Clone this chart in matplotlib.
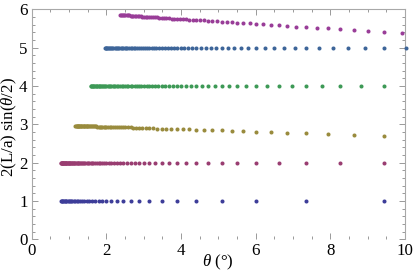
import matplotlib
matplotlib.use("Agg")
import matplotlib.pyplot as plt
from matplotlib.ticker import MultipleLocator

plt.rcParams['font.family'] = ['Liberation Serif', 'DejaVu Serif']
plt.rcParams['mathtext.fontset'] = 'custom'
plt.rcParams['mathtext.rm'] = 'Liberation Serif'
plt.rcParams['mathtext.it'] = 'Liberation Serif:italic'

# order 1
x1 = [9.45, 7.35, 6.01, 5.09, 4.41, 3.89, 3.48, 3.15, 2.88, 2.65, 2.45, 2.28, 2.13, 2.00,
      1.89, 1.79, 1.70, 1.61, 1.54, 1.47, 1.41, 1.35, 1.30, 1.25, 1.20, 1.16, 1.12, 1.08,
      1.05, 1.02, 0.99, 0.96, 0.93, 0.91, 0.88, 0.86, 0.84, 0.82, 0.80, 0.78]
y1 = [1.0] * len(x1)

# order 2
x2 = [9.45, 8.27, 7.35, 6.62, 6.01, 5.51, 5.09, 4.73, 4.41, 4.14, 3.89, 3.68, 3.48, 3.31,
      3.15, 3.01, 2.88, 2.76, 2.65, 2.54, 2.45, 2.36, 2.28, 2.21, 2.13, 2.07, 2.00, 1.95,
      1.89, 1.84, 1.79, 1.74, 1.70, 1.65, 1.61, 1.58, 1.54, 1.50, 1.47, 1.44, 1.41, 1.38,
      1.35, 1.32, 1.30, 1.27, 1.25, 1.23, 1.20, 1.18, 1.16, 1.14, 1.12, 1.10, 1.08, 1.07,
      1.05, 1.03, 1.02, 1.00, 0.99, 0.97, 0.96, 0.95, 0.93, 0.92, 0.91, 0.89, 0.88, 0.87,
      0.86, 0.85, 0.84, 0.83, 0.82, 0.81, 0.80, 0.79, 0.78]
y2 = [2.0] * len(x2)

# order 3 (slowly decreasing)
x3 = [9.45, 8.63, 7.94, 7.35, 6.84, 6.40, 6.01, 5.67, 5.36, 5.09, 4.84, 4.62, 4.41, 4.22,
      4.05, 3.89, 3.74, 3.61, 3.48, 3.36, 3.25, 3.15, 3.05, 2.96, 2.88, 2.80, 2.72, 2.65,
      2.58, 2.51, 2.45, 2.39, 2.34, 2.28, 2.23, 2.18, 2.13, 2.09, 2.05, 2.00, 1.97, 1.93,
      1.89, 1.86, 1.82, 1.79, 1.76, 1.73, 1.70, 1.67, 1.64, 1.61, 1.59, 1.56, 1.54, 1.52,
      1.49, 1.47, 1.45, 1.43, 1.41, 1.39, 1.37, 1.35, 1.33, 1.31, 1.30, 1.28, 1.26, 1.25,
      1.23, 1.22, 1.20, 1.19, 1.17]
y3 = [2.70, 2.73, 2.75, 2.77, 2.78, 2.80, 2.81, 2.82, 2.83, 2.84, 2.85, 2.85, 2.86, 2.87,
      2.87, 2.88, 2.88, 2.89, 2.89, 2.89, 2.90, 2.90, 2.90, 2.91, 2.91, 2.91, 2.91, 2.92,
      2.92, 2.92, 2.92, 2.92, 2.93, 2.93, 2.93, 2.93, 2.93, 2.93, 2.94, 2.94, 2.94, 2.94,
      2.94, 2.94, 2.94, 2.94, 2.94, 2.95, 2.95, 2.95, 2.95, 2.95, 2.95, 2.95, 2.95, 2.95,
      2.95, 2.95, 2.95, 2.95, 2.96, 2.96, 2.96, 2.96, 2.96, 2.96, 2.96, 2.96, 2.96, 2.96,
      2.96, 2.96, 2.96, 2.96, 2.96]

# order 4
x4 = [9.45, 8.82, 8.27, 7.78, 7.35, 6.96, 6.62, 6.30, 6.01, 5.75, 5.51, 5.29, 5.09, 4.90,
      4.73, 4.56, 4.41, 4.27, 4.13, 4.01, 3.89, 3.78, 3.68, 3.58, 3.48, 3.39, 3.31, 3.23,
      3.15, 3.08, 3.01, 2.94, 2.88, 2.81, 2.76, 2.70, 2.65, 2.59, 2.54, 2.50, 2.45, 2.41,
      2.36, 2.32, 2.28, 2.24, 2.21, 2.17, 2.13, 2.10, 2.07, 2.04, 2.00, 1.97, 1.95, 1.92,
      1.89, 1.86, 1.84, 1.81, 1.79, 1.76, 1.74, 1.72, 1.70, 1.67, 1.65, 1.63, 1.61, 1.59,
      1.58]
y4 = [4.0] * len(x4)

# order 5
x5 = [10.02, 9.45, 8.94, 8.48, 8.07, 7.69, 7.35, 7.04, 6.75, 6.49, 6.24, 6.01, 5.80, 5.61,
      5.42, 5.25, 5.09, 4.94, 4.79, 4.66, 4.53, 4.41, 4.30, 4.19, 4.08, 3.99, 3.89, 3.80,
      3.72, 3.64, 3.56, 3.48, 3.41, 3.34, 3.28, 3.21, 3.15, 3.09, 3.03, 2.98, 2.93, 2.88,
      2.83, 2.78, 2.73, 2.69, 2.65, 2.60, 2.56, 2.53, 2.49, 2.45, 2.41, 2.38, 2.35, 2.31,
      2.28, 2.25, 2.22, 2.19, 2.16, 2.13, 2.11, 2.08, 2.05, 2.03, 2.00, 1.98, 1.96]
y5 = [5.0] * len(x5)

# order 6 (slowly decreasing)
x6 = [9.92, 9.45, 9.02, 8.63, 8.27, 7.94, 7.63, 7.35, 7.09, 6.84, 6.62, 6.40, 6.20, 6.02,
      5.84, 5.67, 5.51, 5.36, 5.22, 5.09, 4.96, 4.84, 4.73, 4.62, 4.51, 4.41, 4.32, 4.22,
      4.14, 4.05, 3.97, 3.89, 3.82, 3.75, 3.68, 3.61, 3.54, 3.48, 3.42, 3.36, 3.31, 3.25,
      3.20, 3.15, 3.10, 3.05, 3.01, 2.96, 2.92, 2.88, 2.84, 2.80, 2.76, 2.72, 2.68, 2.65,
      2.61, 2.58, 2.54, 2.51, 2.48, 2.45, 2.42, 2.39, 2.36]
y6 = [5.38, 5.40, 5.43, 5.46, 5.48, 5.50, 5.52, 5.54, 5.55, 5.57, 5.58, 5.60, 5.61, 5.62,
      5.63, 5.64, 5.65, 5.66, 5.67, 5.68, 5.69, 5.70, 5.70, 5.71, 5.72, 5.72, 5.73, 5.73,
      5.74, 5.74, 5.75, 5.75, 5.76, 5.76, 5.77, 5.77, 5.78, 5.78, 5.78, 5.79, 5.79, 5.80,
      5.80, 5.80, 5.80, 5.81, 5.81, 5.81, 5.82, 5.82, 5.82, 5.82, 5.83, 5.83, 5.83, 5.83,
      5.84, 5.84, 5.84, 5.84, 5.84, 5.85, 5.85, 5.85, 5.85]

series = [(x1, y1), (x2, y2), (x3, y3), (x4, y4), (x5, y5), (x6, y6)]
colors = [(0.24, 0.24, 0.6), (0.6, 0.24, 0.4428), (0.6, 0.547, 0.24),
          (0.24, 0.6, 0.33692), (0.24, 0.3958, 0.6), (0.6, 0.24, 0.5951)]

fig = plt.figure(figsize=(4.15, 2.77), dpi=100)
ax = fig.add_axes([0.0764, 0.1361, 0.8995, 0.8303])

for (xs, ys), c in zip(series, colors):
    ax.scatter(xs, ys, s=8.5, color=c, linewidths=0, clip_on=False, zorder=3)

ax.set_xlim(0, 10)
ax.set_ylim(0, 6)
ax.xaxis.set_major_locator(MultipleLocator(2))
ax.xaxis.set_minor_locator(MultipleLocator(0.5))
ax.yaxis.set_major_locator(MultipleLocator(1))
ax.yaxis.set_minor_locator(MultipleLocator(0.2))

gray = '#a8a8a8'
for side in ['left', 'top', 'right']:
    ax.spines[side].set_color(gray)
    ax.spines[side].set_linewidth(0.8)
ax.spines['bottom'].set_visible(False)

ax.tick_params(which='both', direction='in', color='#999999', width=0.7,
               top=True, right=True, labeltop=False, labelright=False,
               labelsize=12.2, labelcolor='black')
ax.tick_params(which='major', length=4, pad=3)
ax.tick_params(which='minor', length=2)

ax.set_xlabel(r'$\theta$ (°)', fontsize=12.2, va='center')
ax.xaxis.set_label_coords(0.5, -0.10)
ax.set_ylabel(r'2(L/a) sin($\theta$/2)', fontsize=12.2, va='center')
ax.yaxis.set_label_coords(-0.061, 0.49)

fig.savefig('out.png', dpi=100)
